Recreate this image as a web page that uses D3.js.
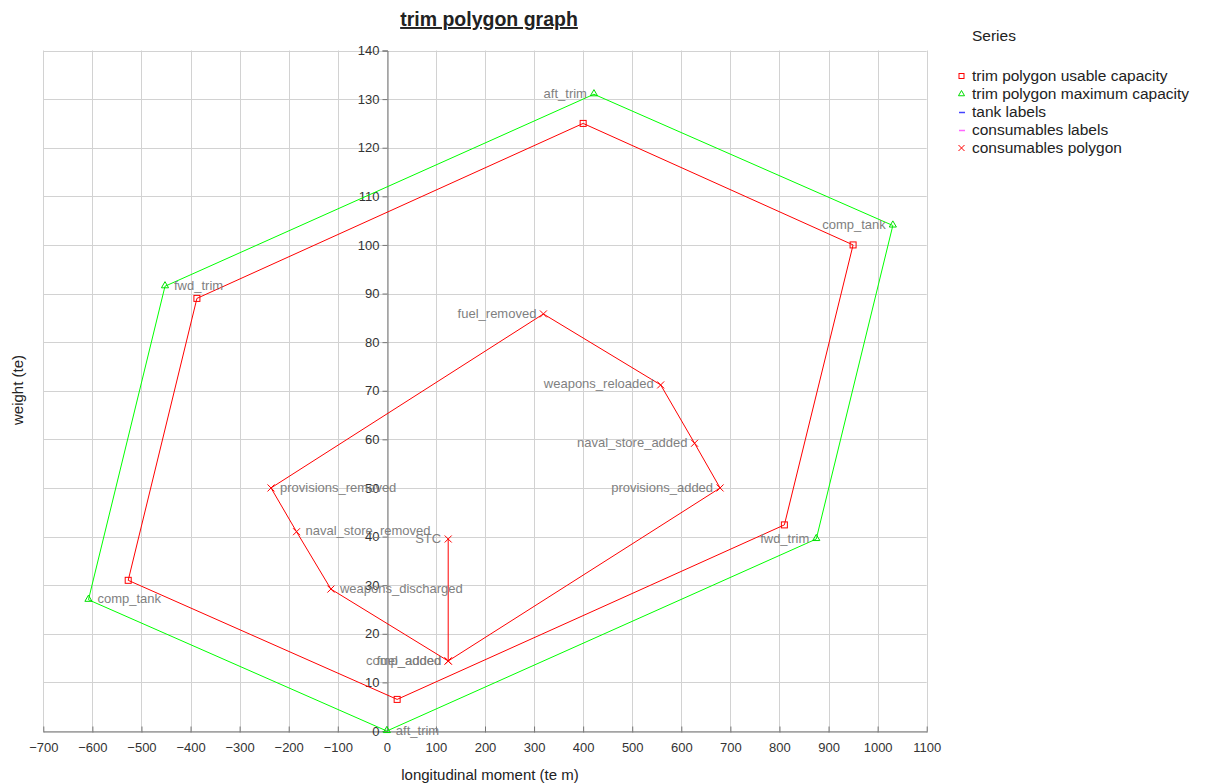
<!DOCTYPE html>
<html>
<head>
<meta charset="utf-8">
<script src="https://cdn.jsdelivr.net/npm/d3@7"></script>
<style>
  html, body { margin: 0; padding: 0; background: #fff; }
  svg { display: block; font-family: "Liberation Sans", Arial, sans-serif; }
</style>
</head>
<body>
<svg id="chart" width="1205" height="784"></svg>
<script>
// Tank trim limits: usable and maximum capacity polygons
const tankNames      = ["aft_trim", "fwd_trim", "comp_tank", "aft_trim", "fwd_trim", "comp_tank"];
const usableMoment   = [21, 810, 950, 400, -387, -527];
const usableWeight   = [6.5, 42.4, 100, 125, 89, 31];
const maximumMoment  = [0, 875, 1031, 422, -452, -608];
const maximumWeight  = [0, 39.5, 104, 131, 91.5, 27];

// Consumables states, in path order
const consumableNames   = ["STC", "comp_added", "provisions_added", "naval_store_added", "weapons_reloaded",
                           "fuel_removed", "provisions_removed", "naval_store_removed", "weapons_discharged", "fuel_added"];
const consumableMoment  = [125, 125, 679, 627, 558, 319, -236, -184, -114, 125];
const consumableWeight  = [39.5, 14.4, 50, 59.2, 71.2, 85.8, 50, 41, 29.2, 14.4];

const xTicks = d3.range(-700, 1101, 100);
const yTicks = d3.range(0, 141, 10);

const legendItems = ["trim polygon usable capacity", "trim polygon maximum capacity",
                     "tank labels", "consumables labels", "consumables polygon"];

const svg = d3.select("#chart");
const x = d3.scaleLinear().domain([-700, 1100]).range([43.3, 926.7]);
const y = d3.scaleLinear().domain([0, 140]).range([731, 50.5]);

// grid
const grid = svg.append("g").attr("stroke", "#d2d2d2").attr("stroke-width", 1);
grid.selectAll(".gx").data(xTicks).join("line")
  .attr("x1", d => Math.round(x(d)) + 0.5).attr("x2", d => Math.round(x(d)) + 0.5)
  .attr("y1", y(140)).attr("y2", y(0));
grid.selectAll(".gy").data(yTicks).join("line")
  .attr("y1", d => Math.round(y(d)) + 0.5).attr("y2", d => Math.round(y(d)) + 0.5)
  .attr("x1", x(-700)).attr("x2", x(1100));

// axes crossing at the origin
const xAxis = svg.append("g")
  .attr("transform", `translate(0,${Math.round(y(0)) + 0.5})`)
  .call(d3.axisBottom(x).tickValues(xTicks).tickSize(0).tickPadding(11).tickFormat(d3.format("d")));
xAxis.selectAll(".tick").append("line").attr("y1", -5).attr("y2", 1).attr("stroke", "#777");
const yAxis = svg.append("g")
  .attr("transform", `translate(${Math.round(x(0)) + 0.5},0)`)
  .call(d3.axisLeft(y).tickValues(yTicks).tickSize(5).tickPadding(3).tickFormat(d3.format("d")));
[xAxis, yAxis].forEach(a => {
  a.select(".domain").attr("stroke", "#777");
  a.selectAll(".tick line").attr("stroke", "#777");
  a.selectAll("text").attr("fill", "#333").attr("font-size", 13)
    .attr("font-family", "'Liberation Sans', Arial, sans-serif");
});

const line = d3.line().x(d => x(d[0])).y(d => y(d[1]));
const zip = (a, b) => a.map((v, i) => [v, b[i]]);

const maxPts = zip(maximumMoment, maximumWeight);
const usePts = zip(usableMoment, usableWeight);
const conPts = zip(consumableMoment, consumableWeight);

svg.append("path").attr("d", line([...maxPts, maxPts[0]]))
  .attr("fill", "none").attr("stroke", "#00ff00").attr("stroke-width", 1);
svg.append("path").attr("d", line([...usePts, usePts[0]]))
  .attr("fill", "none").attr("stroke", "#ff0000").attr("stroke-width", 1);
svg.append("path").attr("d", line(conPts))
  .attr("fill", "none").attr("stroke", "#ff0000").attr("stroke-width", 1);

// markers
const triangle = d3.symbol().type(d3.symbolTriangle).size(22);
svg.append("g").selectAll("path").data(maxPts).join("path")
  .attr("d", triangle).attr("transform", d => `translate(${x(d[0])},${y(d[1]) - 0.5})`)
  .attr("fill", "none").attr("stroke", "#00dd00").attr("stroke-width", 1);
svg.append("g").selectAll("rect").data(usePts).join("rect")
  .attr("x", d => x(d[0]) - 3).attr("y", d => y(d[1]) - 3).attr("width", 6).attr("height", 6)
  .attr("fill", "none").attr("stroke", "#ff0000").attr("stroke-width", 1);
const cross = s => `M${-s},${-s}L${s},${s}M${-s},${s}L${s},${-s}`;
svg.append("g").selectAll("path").data(conPts).join("path")
  .attr("d", cross(3.5)).attr("transform", d => `translate(${x(d[0])},${y(d[1])})`)
  .attr("fill", "none").attr("stroke", "#ff0000").attr("stroke-width", 1);

// point labels: to the left of positive moments, to the right otherwise
function labels(names, pts) {
  svg.append("g").selectAll("text").data(pts).join("text")
    .attr("x", d => x(d[0]) + (d[0] > 0 ? -7 : 9))
    .attr("y", d => y(d[1]) - 1)
    .attr("dy", "0.35em")
    .attr("text-anchor", d => d[0] > 0 ? "end" : "start")
    .attr("font-size", 13).attr("fill", "#7f7f7f")
    .text((d, i) => names[i]);
}
labels(tankNames, maxPts);
labels(consumableNames, conPts);

// title
svg.append("text").attr("x", 489).attr("y", 26).attr("text-anchor", "middle")
  .attr("font-size", 19.5).attr("font-weight", "bold").attr("fill", "#222")
  .attr("text-decoration", "underline").text("trim polygon graph");

// axis titles
svg.append("text").attr("x", 490).attr("y", 780).attr("text-anchor", "middle")
  .attr("font-size", 15).attr("fill", "#222").text("longitudinal moment (te m)");
svg.append("text").attr("transform", "translate(23,390) rotate(-90)").attr("text-anchor", "middle")
  .attr("font-size", 15).attr("fill", "#222").text("weight (te)");

// legend
const lg = svg.append("g");
lg.append("text").attr("x", 972).attr("y", 41).attr("font-size", 15.5).attr("fill", "#222").text("Series");
const lgY = i => 76 + i * 18;
lg.selectAll("text.item").data(legendItems).join("text").attr("class", "item")
  .attr("x", 972).attr("y", (d, i) => lgY(i)).attr("dy", "0.35em")
  .attr("font-size", 15.5).attr("fill", "#222").text(d => d);
lg.append("rect").attr("x", 959).attr("y", lgY(0) - 2.5).attr("width", 5).attr("height", 5)
  .attr("fill", "none").attr("stroke", "#ff0000");
lg.append("path").attr("d", d3.symbol().type(d3.symbolTriangle).size(16))
  .attr("transform", `translate(961.5,${lgY(1)})`).attr("fill", "none").attr("stroke", "#00dd00");
lg.append("line").attr("x1", 959).attr("x2", 965).attr("y1", lgY(2) + 0.5).attr("y2", lgY(2) + 0.5)
  .attr("stroke", "#4444ff").attr("stroke-width", 1.5);
lg.append("line").attr("x1", 959).attr("x2", 965).attr("y1", lgY(3) + 0.5).attr("y2", lgY(3) + 0.5)
  .attr("stroke", "#ff66ff").attr("stroke-width", 1.5);
lg.append("path").attr("d", cross(3)).attr("transform", `translate(961.5,${lgY(4)})`)
  .attr("fill", "none").attr("stroke", "#ff0000");
</script>
</body>
</html>
